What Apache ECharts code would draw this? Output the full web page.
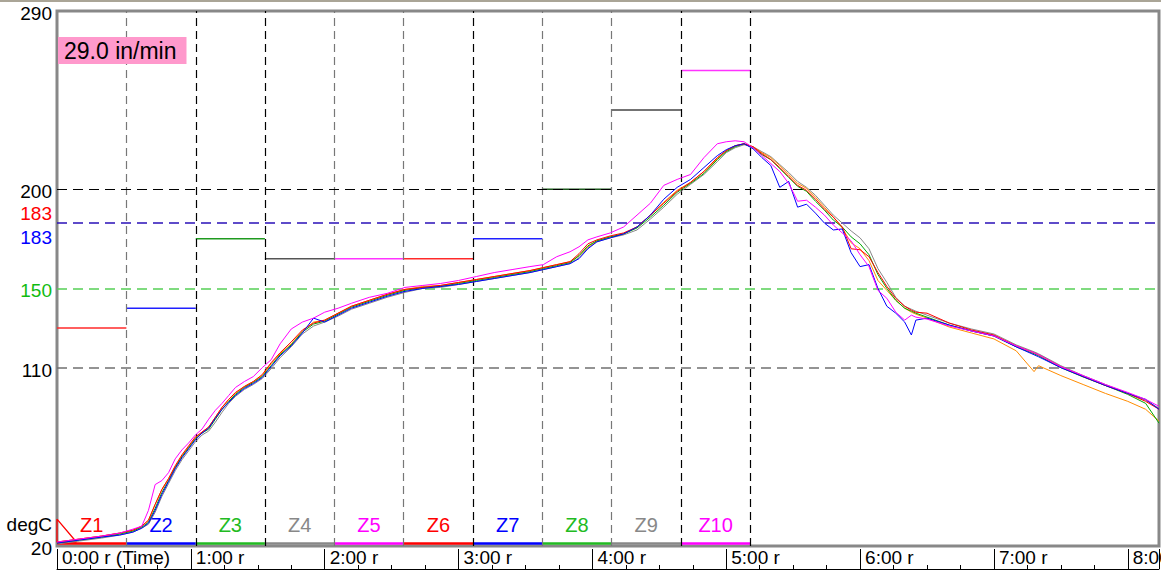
<!DOCTYPE html>
<html><head><meta charset="utf-8">
<script src="https://cdn.jsdelivr.net/npm/echarts@6/dist/echarts.min.js"></script>
<style>html,body{margin:0;padding:0;background:#fff}#c{width:1161px;height:571px}</style>
</head><body><div id="c"></div>
<script>
// ---------- data ----------
const timeMin = [0,10,20,28,34,38,41,44,47,50, 53,56,59,62,65,68,71,74,77,80, 84,88,92,96,100,105,110,115,120,126, 132,140,148,156,164,172,180,188,196,204, 212,218,224,230,234,238,242,248,254,260, 266,272,278,284,290,296,300,304,308,312, 316,320,324,328,332,336,340,344,348,352, 356,360,364,368,372,376,380,383,385,390, 400,410,420,430,438,440,450,460,470,480, 488,494];

const tcGray = [21,22.5,24,25.5,27,29,31,37,45,51.5, 58,63.5,68,72.5,76,78,82.5,87.5,92,95.5, 99,101.5,104.5,109.5,115,120.5,127,131,133,136, 139.5,142.5,145.5,148,150,150.5,152,153.5,155,156.5, 158,159.5,161,162.5,165.5,170.5,173.5,175.5,177,179.5, 185,191,197.5,202.5,207.5,214,218.5,221,222.5,221.5, 219,216.5,212.5,208.5,204,201,197,192,187,183, 179,175.5,170,160,153,145.5,141,139.5,138.5,136.5, 132.5,129.5,127,121.5,118,117,111,106,101.5,97, 93.5,89.5];
const tcOrange = [22,23.5,25,26.5,28,30,33,41,48.5,54, 60,65.5,70,74.5,77.5,80,85,90,94,97, 100.5,103,106,112,117,122,128.5,133,134,137.5, 141,144,147,149.5,151,151.5,153,154.5,156,157.5, 159,160.5,162,163.5,166.5,171,174,176,177.5,181, 187,193.5,199.5,203.5,209,215.5,219.5,222,223,221.5, 218.5,216,212,207.5,203,200.5,196,191,186,180.5, 173,170,164,154,149,144,140,138,137,135, 130.5,127.5,124.5,118.5,108,111,106,101.5,97,93, 89,83];
const tcGreen = [21.5,23,24.5,26,27.5,29.5,32,39,47,53, 59.5,65,69.5,74,77,79,84,89,93,96.5, 100,102.5,105.5,111,116.5,121.5,128,132,133.5,137, 140.5,143.5,146.5,149,150.5,151,152.5,154,155.5,157, 158.5,160,161.5,163,166.5,171.5,174,176,177.5,180.5, 186,192,198.5,203,208,215,219,221.5,223,221, 217.5,215,210.5,206,201.5,199,194,189.5,184.5,181, 176,172.5,167,157,150,144,140,138.5,137.5,135.5, 131.5,128.5,126,120.5,117,116,110,105.3,101,96.5, 92,82];
const tcRed = [22,23.5,25,26.5,28,30,33,41,48.5,54, 60.5,66,70.5,75,77.5,80,85,90,94,97.5, 100.5,103,106.5,112.5,117.5,123,129,132.5,134,137.5, 141,144,147,149.5,150.5,151.5,153,154.5,156,157.5, 159,160.5,162,163.5,167.5,172.5,174.5,176.5,178,181, 187,193,199,203.5,209,216,219.5,222,223,221.5, 218,215,211,206.5,202,199.5,195,190,186,181, 170,169.5,166,158,151,145,141,139,138,137.5, 132.5,129,126.5,121,117.5,116.5,110.5,105.5,101,97, 93,89];
const tcBlue = [21.5,23,24.5,25.5,27,29,31.5,38,46,52.5, 59,64.5,69,73.5,77,79.5,84.5,89,92.5,96, 99.5,102,105,110.5,116,121,127.5,135,133,136.5, 140,143,146,148.5,150,151,152,153.5,155,156.5, 158,159.5,161,162.5,165,170,173.5,175.5,177.5,181, 187,195,201,205,211,217,220,222,223,220.5, 216,212,201,204,191,192.5,188,183,179.5,180, 168,161,162,150,141,137.5,133,126.5,134,135, 131.5,128.5,126,120.5,116.5,115.5,110,105.5,101,97, 94,89];
const tcMagenta = [22,23.5,25,26.5,28.5,30,38,51,53,57, 64,68.5,72,76,79,84,88.5,92,96,100, 103,105.5,110,114,122,129.5,133,135,138,140, 142.5,145.5,147.5,150.5,151.5,152.5,154,156,158,159.5, 161,162,166,168.5,171,174.5,176,178,181,187, 193,202,205,207.5,216,223,224,224.5,224,221, 217,213,209,203,194,194.5,191,187,182,178, 174,167,161,149,145,138,134,136.5,135.5,134.5, 131,128.5,126,121,117.5,116.5,110.5,106,101.5,97.5, 94,90.5];

const zoneNames = ['Z1','Z2','Z3','Z4','Z5','Z6','Z7','Z8','Z9','Z10'];
const zoneEdges = [0,31.1,62.2,93.2,124.3,155.4,186.5,217.6,248.6,279.7,310.8];
const zoneSetpoints = [130,140,175,165,165,165,175,200,240,260];
const refLines = [200,183,150,110];
const yTickValues = [20,32,110,150,183,200,290];
const yTickTexts = {20:'20',32:'degC',110:'110',150:'150',183:'183',200:'200',290:'290'};
const speedLabel = '29.0 in/min';
const startMarker = [[0,33.6],[8.7,22],[0,22],[0,33.6]];

// ---------- styles ----------
const FONT = 'Liberation Sans';
const zoneLabelColors = ['#ff0000','#0000ff','#22bb22','#888888','#ff00ff','#ff0000','#0000ff','#22bb22','#888888','#ff00ff'];
const zoneBarColors = zoneLabelColors;
const setpointColors = ['#ff2a2a','#2020ff','#1f9a1f','#555555','#ff33ff','#ff2a2a','#2020ff','#1e5a1e','#444444','#ff33ff'];
const refStyles = [
  {color:'#000000', type:[10,6], width:1.2},
  {color:'#2a10b8', type:[10,6], width:1.5},
  {color:'#55d055', type:[10,6], width:1.5},
  {color:'#707070', type:[10,6], width:1.5}
];
const edgeColors = ['#777','#000','#000','#777','#777','#000','#777','#777','#000','#000'];

function pairs(arr){ return timeMin.map((t,i)=>[t,arr[i]]); }

const curves = [
  {name:'TC gray', data:tcGray, color:'#888888'},
  {name:'TC orange', data:tcOrange, color:'#ff8c00'},
  {name:'TC green', data:tcGreen, color:'#00aa00'},
  {name:'TC red', data:tcRed, color:'#ff0000'},
  {name:'TC blue', data:tcBlue, color:'#0000ff'},
  {name:'TC magenta', data:tcMagenta, color:'#ff00ff'}
];

const zoneData = zoneNames.map((n,i)=>[zoneEdges[i], zoneEdges[i+1], zoneSetpoints[i]]);

const series = [];
series.push({
  type:'custom', name:'zones', xAxisIndex:0, yAxisIndex:0, silent:true, z:3,
  data: zoneData,
  renderItem(params, api){
    const i = params.dataIndex;
    const s = api.value(0), e = api.value(1), sp = api.value(2);
    const p0 = api.coord([s, sp]), p1 = api.coord([e, sp]);
    const b0 = api.coord([s, 20]), b1 = api.coord([e, 20]);
    return {type:'group', children:[
      {type:'line', shape:{x1:p0[0],y1:p0[1],x2:p1[0],y2:p1[1]}, style:{stroke:setpointColors[i], lineWidth:1.5}},
      {type:'line', shape:{x1:b0[0],y1:b0[1]-2.5,x2:b1[0],y2:b1[1]-2.5}, style:{stroke:zoneBarColors[i], lineWidth:2.5}},
      {type:'text', style:{text:zoneNames[i], x:(b0[0]+b1[0])/2, y:b0[1]-21, align:'center', verticalAlign:'middle', fill:zoneLabelColors[i], fontSize:20, fontFamily:FONT}}
    ]};
  },
  markLine:{
    symbol:'none', silent:true, animation:false, label:{show:false},
    data: zoneEdges.slice(1).map((x,i)=>({xAxis:x, lineStyle:{color:edgeColors[i], type:[8,5], width:1.2}}))
  }
});
series.push({
  type:'line', name:'refs', data: pairs(tcGreen), showSymbol:false, lineStyle:{width:0, opacity:0}, silent:true, z:1,
  markLine:{
    symbol:'none', silent:true, animation:false, label:{show:false},
    data: refLines.map((v,i)=>({yAxis:v, lineStyle:refStyles[i]}))
  }
});
series.push({
  type:'line', name:'start', data:startMarker, showSymbol:false, silent:true, z:4,
  lineStyle:{color:'#ff0000', width:1.3}
});
curves.forEach(c=>{
  series.push({type:'line', name:c.name, data:pairs(c.data), showSymbol:false, symbol:'none', z:5,
    lineStyle:{color:c.color, width:1}, silent:true});
});

const chart = echarts.init(document.getElementById('c'), null, {renderer:'svg'});
chart.setOption({
  animation:false,
  backgroundColor:'#ffffff',
  textStyle:{fontFamily:FONT},
  title:{text:speedLabel, left:58, top:37, backgroundColor:'#ff99cc', padding:[2,10,2,6],
    textStyle:{fontSize:23, fontWeight:'normal', color:'#000', fontFamily:FONT}},
  graphic:[{type:'rect', left:0, top:0, shape:{width:1161, height:2}, style:{fill:'#aaa597'}, silent:true}],
  grid:[
    {left:57, top:11, width:1102, height:535, show:true, borderColor:'#888888', borderWidth:3, backgroundColor:'transparent', containLabel:false, outerBoundsMode:'none'},
    {left:57, top:549, width:1102, height:20, show:false, containLabel:false, outerBoundsMode:'none'}
  ],
  xAxis:[
    {gridIndex:0, type:'value', min:0, max:494, show:false, splitLine:{show:false}},
    {gridIndex:1, type:'value', min:0, max:494, interval:60, position:'bottom',
      axisLine:{show:true, onZero:false, lineStyle:{color:'#000', width:1}},
      axisTick:{show:true, inside:true, length:20, lineStyle:{color:'#000', width:1}},
      minorTick:{show:true, splitNumber:4, length:4, lineStyle:{color:'#000', width:1}},
      splitLine:{show:false},
      axisLabel:{inside:true, margin:12, align:'left', verticalAlign:'middle', padding:[0,0,0,5],
        color:'#000', fontSize:19, fontFamily:FONT,
        formatter:v=> v===0 ? '0:00 r (Time)' : (Math.round(v/60))+':00 r'}
    }
  ],
  yAxis:[
    {gridIndex:0, type:'value', min:20, max:290,
      axisLine:{show:false}, axisTick:{show:false}, splitLine:{show:false},
      axisLabel:{show:true, customValues:yTickValues, margin:5, fontSize:19, color:'#000', fontFamily:FONT,
        padding:[5,0,0,0],
        formatter:v=>{
          const k = Math.round(v);
          if (k===183) return '{r|183}\n{b|183}';
          if (k===150) return '{g|150}';
          return yTickTexts[k] || '';
        },
        rich:{
          r:{color:'#ff0000', fontSize:19, lineHeight:24, fontFamily:FONT, align:'right'},
          b:{color:'#0000ff', fontSize:19, lineHeight:24, fontFamily:FONT, align:'right'},
          g:{color:'#11bb11', fontSize:19, fontFamily:FONT}
        }
      }
    },
    {gridIndex:1, type:'value', show:false}
  ],
  series: series
});
</script>
</body></html>
